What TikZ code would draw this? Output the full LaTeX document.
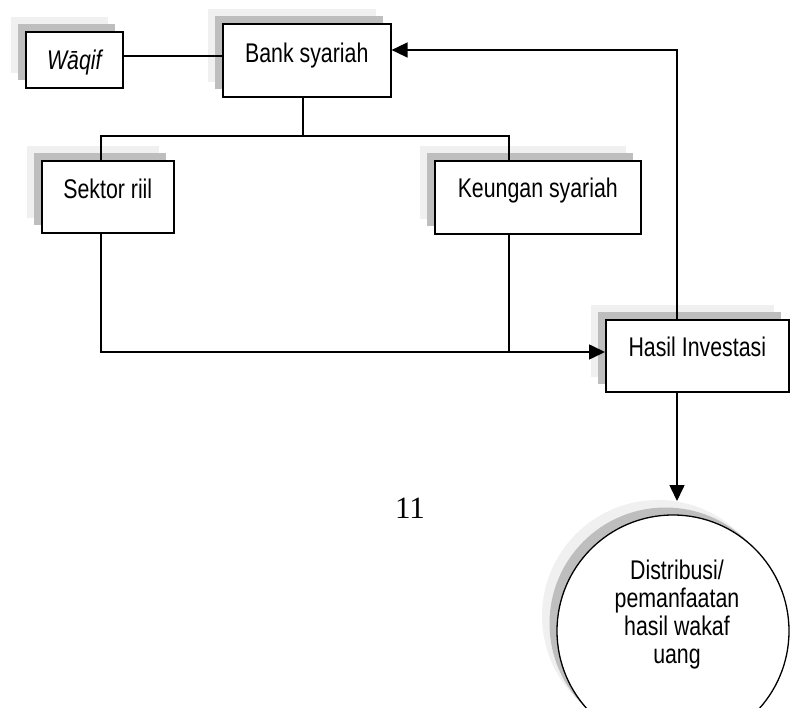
\documentclass[tikz,border=0pt]{standalone}
\usepackage{fontspec}
\setmainfont{Liberation Serif}
\newfontfamily\narrowsans[FakeStretch=0.79]{Liberation Sans}
\usetikzlibrary{arrows.meta,shadows}
\definecolor{shlight}{RGB}{240,240,240}
\definecolor{shdark}{RGB}{190,190,190}
\begin{document}
\begin{tikzpicture}[x=1pt,y=-1pt,
  twoshadows/.style={
    general shadow={shadow xshift=-15pt,shadow yshift=15pt,fill=shlight,draw=none},
    general shadow={shadow xshift=-7.5pt,shadow yshift=7.5pt,fill=shdark,draw=none}},
  box/.style={draw, line width=1.6pt, fill=white, inner sep=0pt, anchor=north west,
    font=\narrowsans\fontsize{27}{28}\selectfont, twoshadows},
  conn/.style={line width=1.6pt},
  arr/.style={conn,-{Triangle[length=16pt,width=15pt]}}]
\useasboundingbox (0,0) rectangle (790,708);
\clip (0,0) rectangle (790,708);

\node[box, minimum width=97pt, text height=37.5pt, text depth=18.5pt] (waqif) at (25,31) {\itshape Wāqif};
\node[box, minimum width=168pt, text height=38.5pt, text depth=34.5pt] (bank) at (222,23) {Bank syariah};
\node[box, minimum width=132pt, text height=37.5pt, text depth=34.5pt] (sektor) at (41,160) {Sektor riil};
\node[box, minimum width=206pt, text height=36.5pt, text depth=36.5pt] (keungan) at (434,160) {Keungan syariah};
\node[box, minimum width=183pt, text height=36.5pt, text depth=35.5pt] (hasil) at (605,319) {Hasil Investasi};

\node[circle, draw, line width=1.3pt, fill=white, minimum size=232pt, inner sep=0pt, twoshadows] (dist) at (673,631) {};
\node[align=center, font=\narrowsans\fontsize{27}{28}\selectfont] (disttext) at (677,615) {Distribusi/\\pemanfaatan\\hasil wakaf\\uang};

\node[font=\fontsize{31}{34}\selectfont] (pagenum) at (410,508) {11};

\coordinate (bj) at (303,136);
\coordinate (lj) at (101,136);
\coordinate (rj) at (509,136);
\coordinate (lb) at (101,352);
\coordinate (rb) at (509,352);
\coordinate (tr) at (677,50);
\coordinate (dtop) at (677,501);

\draw[conn] ([yshift=4pt]waqif.east) -- ([yshift=4pt]waqif.east -| bank.west);
\draw[conn] (bank.south -| bj) -- (bj);
\draw[conn] (sektor.north -| lj) -- (lj) -- (rj) -- (keungan.north -| rj);
\draw[arr] (sektor.south -| lb) -- (lb) -- (lb -| hasil.west);
\draw[conn] (keungan.south -| rb) -- (rb);
\draw[arr] (hasil.north -| tr) -- (tr) -- (tr -| bank.east);
\draw[arr] (hasil.south -| tr) -- (dtop);
\end{tikzpicture}
\end{document}
